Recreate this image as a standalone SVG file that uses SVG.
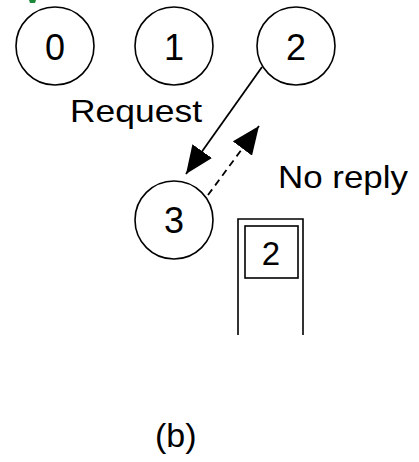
<svg xmlns="http://www.w3.org/2000/svg" width="419" height="462" viewBox="0 0 419 462">
  <style>
    .node { fill: none; stroke: #000; stroke-width: 1.6; }
    .label { font-family: "Liberation Sans", Arial, sans-serif; fill: #000; }
    .num { font-size: 36px; text-anchor: middle; }
    .txt { font-size: 32px; }
    .link { fill: none; stroke: #000; stroke-width: 1.8; }
    .dash { stroke-dasharray: 7 5; }
    .stack { fill: none; stroke: #000; stroke-width: 1.6; }
  </style>
  <defs>
    <marker id="head" viewBox="0 0 28 24" refX="28" refY="12" markerWidth="28" markerHeight="24" markerUnits="userSpaceOnUse" orient="auto">
      <path d="M0,0 L28,12 L0,24 Z" fill="#000"/>
    </marker>
  </defs>
  <rect width="419" height="462" fill="#fff"/>
  <!-- small green corner mark -->
  <path d="M29,0 L36,0 L35,3 L30,3 Z" fill="#1a8a3a"/>

  <g id="node-0">
    <circle class="node" cx="55" cy="46" r="39"/>
    <text class="label num" x="55" y="60">0</text>
  </g>
  <g id="node-1">
    <circle class="node" cx="174" cy="46" r="39"/>
    <text class="label num" x="174" y="60">1</text>
  </g>
  <g id="node-2">
    <circle class="node" cx="296" cy="46" r="39"/>
    <text class="label num" x="296" y="60">2</text>
  </g>
  <g id="node-3">
    <circle class="node" cx="174" cy="220" r="39"/>
    <text class="label num" x="174" y="233">3</text>
  </g>

  <g id="connectors">
    <line class="link" x1="262" y1="67" x2="186" y2="174" marker-end="url(#head)"/>
    <line class="link dash" x1="208" y1="195" x2="259" y2="126" marker-end="url(#head)"/>
  </g>

  <g id="labels">
    <text class="label txt" x="70" y="122" textLength="132" lengthAdjust="spacingAndGlyphs">Request</text>
    <text class="label txt" x="278" y="188" textLength="130" lengthAdjust="spacingAndGlyphs">No reply</text>
    <text class="label txt" x="155" y="447" style="font-size:34px">(b)</text>
  </g>

  <g id="stack">
    <path class="stack" d="M238,335 L238,219 L303,219 L303,335"/>
    <rect class="stack" x="245" y="226" width="53" height="52"/>
    <text class="label num" x="271" y="265" style="font-size:33px">2</text>
  </g>
</svg>
